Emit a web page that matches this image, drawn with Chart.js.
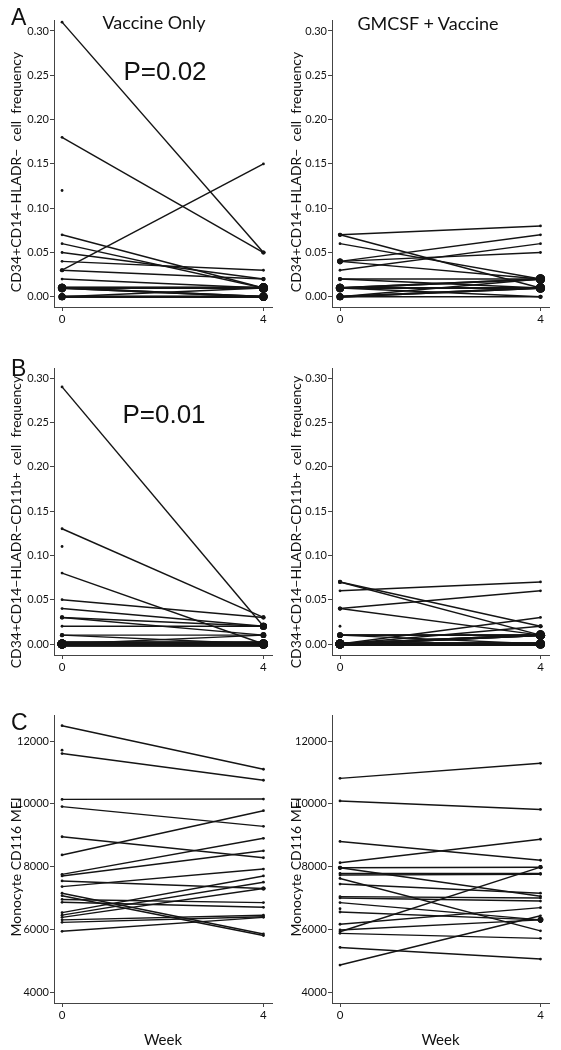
<!DOCTYPE html>
<html>
<head>
<meta charset="utf-8">
<script src="https://cdn.jsdelivr.net/npm/chart.js@4.4.0/dist/chart.umd.min.js"></script>
<style>
  body { margin: 0; background: #fff; }
  #page { position: relative; width: 561px; height: 1050px; background: #fff; overflow: hidden; font-family: Lato, sans-serif; color: #111; }
  .panel { position: absolute; }
  .txt { position: absolute; white-space: nowrap; transform: translate(-50%, -50%); }
  .ytitle { position: absolute; white-space: nowrap; font-size: 14px; transform: translate(-50%, -50%) rotate(-90deg); }
  .letter { position: absolute; font-family: "Liberation Sans", Arial, sans-serif; font-size: 23px; line-height: 1; }
  .pval { font-family: "Liberation Sans", Arial, sans-serif; font-size: 26px; }
  .group { font-size: 18px; }
</style>
</head>
<body>
<div id="page">
  <div class="panel" style="left:0;top:0"><canvas id="aLeft" width="280" height="330"></canvas></div>
  <div class="panel" style="left:280px;top:0"><canvas id="aRight" width="281" height="330"></canvas></div>
  <div class="panel" style="left:0;top:340px"><canvas id="bLeft" width="280" height="335"></canvas></div>
  <div class="panel" style="left:280px;top:340px"><canvas id="bRight" width="281" height="335"></canvas></div>
  <div class="panel" style="left:0;top:680px"><canvas id="cLeft" width="280" height="370"></canvas></div>
  <div class="panel" style="left:280px;top:680px"><canvas id="cRight" width="281" height="370"></canvas></div>

  <div class="letter" style="left:11px;top:6px">A</div>
  <div class="letter" style="left:11px;top:357px">B</div>
  <div class="letter" style="left:11px;top:711px">C</div>

  <div class="txt group" style="left:154px;top:22px">Vaccine Only</div>
  <div class="txt group" style="left:428px;top:23px">GMCSF + Vaccine</div>
  <div class="txt pval" style="left:165px;top:71px">P=0.02</div>
  <div class="txt pval" style="left:164px;top:414px">P=0.01</div>

  <div class="ytitle" style="left:15px;top:172px">CD34+CD14−HLADR−&nbsp; cell&nbsp; frequency</div>
  <div class="ytitle" style="left:295px;top:172px">CD34+CD14−HLADR−&nbsp; cell&nbsp; frequency</div>
  <div class="ytitle" style="left:15px;top:522px">CD34+CD14−HLADR−CD11b+&nbsp; cell&nbsp; frequency</div>
  <div class="ytitle" style="left:295px;top:522px">CD34+CD14−HLADR−CD11b+&nbsp; cell&nbsp; frequency</div>
  <div class="ytitle" style="left:15px;top:867px">Monocyte CD116 MFI</div>
  <div class="ytitle" style="left:295px;top:867px">Monocyte CD116 MFI</div>
</div>
<script>
// weeks on the x axis
const weeks = [0, 4];
const weekLabels = ["0", "4"];
const freqTicks = [0, 0.05, 0.10, 0.15, 0.20, 0.25, 0.30];
const mfiTicks = [4000, 6000, 8000, 10000, 12000];

// A: CD34+CD14-HLADR- frequency, one entry per patient (null = no week 4 sample)
const aVaccineWk0 = [0.31, 0.18, 0.12, 0.03, 0.07, 0.06, 0.05, 0.04, 0.03, 0.02, 0.01, 0.01, 0.01, 0.01, 0.01, 0.00, 0.00, 0.00, 0.00];
const aVaccineWk4 = [0.05, 0.05, null, 0.15, 0.01, 0.01, 0.02, 0.03, 0.02, 0.01, 0.01, 0.01, 0.01, 0.00, 0.00, 0.00, 0.00, 0.00, 0.01];
const aGmcsfWk0 = [0.07, 0.07, 0.06, 0.04, 0.04, 0.04, 0.03, 0.02, 0.02, 0.01, 0.01, 0.01, 0.01, 0.01, 0.00, 0.00, 0.00, 0.00];
const aGmcsfWk4 = [0.08, 0.01, 0.02, 0.07, 0.05, 0.02, 0.06, 0.02, 0.01, 0.02, 0.02, 0.01, 0.01, 0.00, 0.01, 0.01, 0.02, 0.00];

// B: CD34+CD14-HLADR-CD11b+ frequency
const bVaccineWk0 = [0.29, 0.13, 0.11, 0.08, 0.05, 0.04, 0.03, 0.03, 0.02, 0.01, 0.01, 0.00, 0.00, 0.00, 0.00, 0.00, 0.00, 0.00, 0.00, 0.00];
const bVaccineWk4 = [0.02, 0.03, null, 0.00, 0.03, 0.02, 0.02, 0.01, 0.02, 0.01, 0.00, 0.00, 0.00, 0.00, 0.00, 0.00, 0.00, 0.00, 0.00, 0.01];
const bGmcsfWk0 = [0.06, 0.07, 0.07, 0.04, 0.04, 0.02, 0.01, 0.01, 0.01, 0.00, 0.00, 0.00, 0.00, 0.00, 0.00, 0.00, 0.00, 0.00, 0.00];
const bGmcsfWk4 = [0.07, 0.02, 0.01, 0.06, 0.01, null, 0.01, 0.01, 0.00, 0.03, 0.02, 0.01, 0.01, 0.01, 0.00, 0.00, 0.00, 0.00, 0.00];

// C: monocyte CD116 MFI
const cVaccineWk0 = [12490, 11600, 11710, 10140, 9910, 8950, 8370, 7750, 7700, 7540, 7360, 7150, 7070, 6950, 6860, 6530, 6450, 6380, 6300, 6220, 5935];
const cVaccineWk4 = [11100, 10750, null, 10150, 9280, 8280, 9780, 8900, 8500, 7300, 7920, 5850, 5800, 6850, 6700, 7700, 7500, 7300, 6450, 6400, 6380];
const cGmcsfWk0 = [10810, 10090, 8800, 8120, 7960, 7960, 7780, 7730, 7620, 7440, 7040, 7000, 6850, 6655, 6550, 6160, 5980, 5920, 5870, 5420, 4860];
const cGmcsfWk4 = [11290, 9820, 8200, 8870, 7980, 7050, 7780, 7750, 5950, 7150, 7000, 6900, 6300, null, 6300, 6690, 6300, 7980, 5710, 5050, 6430];

const ink = "#141414";
const axisColor = "#444";

// how many patients share the same value -> bigger dot / thicker line
const countSame = (arr, v) => arr.filter((a) => a === v).length;
const countPair = (w0, w4, i) =>
    w0.filter((a, j) => a === w0[i] && w4[j] === w4[i]).length;

const makePanel = (id, wk0, wk4, cfg) => {
    const datasets = wk0.map((v0, i) => {
        const pts = [{ x: weeks[0], y: v0 }];
        if (wk4[i] !== null) pts.push({ x: weeks[1], y: wk4[i] });
        const n = countPair(wk0, wk4, i);
        return {
            data: pts,
            borderColor: ink,
            backgroundColor: ink,
            borderWidth: Math.min(1.45 + 0.45 * (n - 1), 4.8),
            pointRadius: (ctx) => {
                const col = ctx.dataIndex === 0 ? wk0 : wk4;
                const c = countSame(col, ctx.raw.y);
                return Math.min(1.4 + 0.7 * (c - 1), 4.6);
            },
            pointBorderWidth: 0,
            pointHoverRadius: 0,
        };
    });

    new Chart(document.getElementById(id), {
        type: "line",
        data: { datasets },
        options: {
            responsive: false,
            animation: false,
            layout: { padding: { top: cfg.top, right: cfg.right, left: 0, bottom: 0 } },
            plugins: { legend: { display: false }, tooltip: { enabled: false } },
            scales: {
                x: {
                    type: "linear",
                    min: -0.16,
                    max: 4.17,
                    afterBuildTicks: (axis) => {
                        axis.ticks = weeks.map((w) => ({ value: w }));
                    },
                    afterFit: (axis) => {
                        axis.height = cfg.xHeight;
                    },
                    ticks: {
                        autoSkip: false,
                        padding: 1,
                        color: "#111",
                        font: { family: "Lato", size: 11.5 },
                        callback: (v) => weekLabels[weeks.indexOf(v)],
                    },
                    border: { display: true, color: axisColor, width: 1 },
                    grid: { drawOnChartArea: false, drawTicks: true, tickLength: 4, tickColor: axisColor },
                    title: {
                        display: cfg.week,
                        text: "Week",
                        color: "#111",
                        font: { family: "Lato", size: 15 },
                        padding: { top: 0, bottom: 1 },
                    },
                },
                y: {
                    type: "linear",
                    min: cfg.yMin,
                    max: cfg.yMax,
                    afterBuildTicks: (axis) => {
                        axis.ticks = cfg.yTicks.map((t) => ({ value: t }));
                    },
                    afterFit: (axis) => {
                        axis.width = cfg.yWidth;
                    },
                    ticks: {
                        autoSkip: false,
                        padding: 1,
                        color: "#111",
                        font: { family: "Lato", size: 11 },
                        callback: cfg.fmt,
                    },
                    border: { display: true, color: axisColor, width: 1 },
                    grid: { drawOnChartArea: false, drawTicks: true, tickLength: 4, tickColor: axisColor },
                },
            },
        },
    });
};

const freqFmt = (v) => v.toFixed(2);
const mfiFmt = (v) => String(v);

const freqLeft = { top: 20, right: 8, yWidth: 54, xHeight: 23, yMin: -0.0115, yMax: 0.3124, yTicks: freqTicks, fmt: freqFmt, week: false };
const freqRight = { ...freqLeft, right: 12, yWidth: 52 };
const bLeftCfg = { ...freqLeft, top: 28, xHeight: 20, yMin: -0.0124, yMax: 0.3113 };
const bRightCfg = { ...bLeftCfg, right: 12, yWidth: 52 };
const cLeftCfg = { top: 35, right: 8, yWidth: 54, xHeight: 47, yMin: 3650, yMax: 12830, yTicks: mfiTicks, fmt: mfiFmt, week: true };
const cRightCfg = { ...cLeftCfg, right: 12, yWidth: 52 };

makePanel("aLeft", aVaccineWk0, aVaccineWk4, freqLeft);
makePanel("aRight", aGmcsfWk0, aGmcsfWk4, freqRight);
makePanel("bLeft", bVaccineWk0, bVaccineWk4, bLeftCfg);
makePanel("bRight", bGmcsfWk0, bGmcsfWk4, bRightCfg);
makePanel("cLeft", cVaccineWk0, cVaccineWk4, cLeftCfg);
makePanel("cRight", cGmcsfWk0, cGmcsfWk4, cRightCfg);
</script>
</body>
</html>
